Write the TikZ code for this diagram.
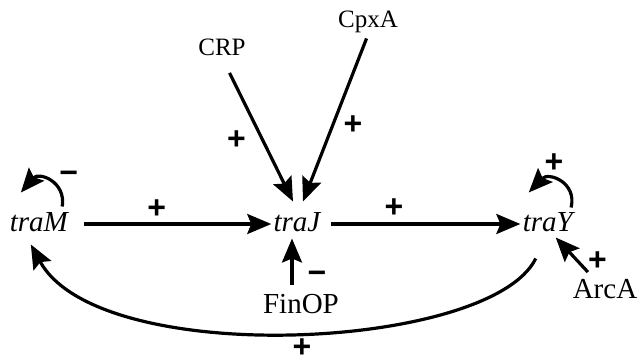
\documentclass[tikz,border=0pt]{standalone}
\usepackage{fontspec}
\setmainfont{Liberation Serif}
\setsansfont{Liberation Sans}
\usetikzlibrary{arrows.meta,positioning}
\tikzset{
  gene/.style={
    font=\fontsize{14.5}{17}\selectfont\itshape,
    inner sep=1pt, text height=9.6pt, text depth=2.5pt
  },
  regsmall/.style={
    font=\fontsize{12.5}{15}\selectfont, inner sep=1pt, anchor=base
  },
  reglarge/.style={
    font=\fontsize{14.5}{17}\selectfont, inner sep=1pt, anchor=base
  },
  sign/.style={font=\fontsize{16}{18}\selectfont\sffamily\bfseries, inner sep=0.5pt},
  act/.style={->, >={Stealth[length=12pt,width=10pt,inset=2pt]}, line width=1.6pt},
}

\begin{document}
\begin{tikzpicture}[x=0.5pt, y=-0.5pt]
  \useasboundingbox (0,0) rectangle (638,364);

  % Genes
  \node[gene] (traJ) at (297,224) {traJ};
  \node[gene, left=100.5pt of traJ] (traM) {traM};
  \node[gene, right=98.8pt of traJ] (traY) {traY};

  % Regulators
  \node[regsmall] (CRP) at (222,55) {CRP};
  \node[regsmall] (CpxA) at (368,27) {CpxA};
  \node[reglarge] (FinOP) at (301,313) {FinOP};
  \node[reglarge] (ArcA) at (605,298) {ArcA};

  % Gene to gene
  \draw[act, shorten <=7pt] (traM) -- node[sign, pos=0.43, above=1.5pt] {+} (traJ);
  \draw[act, shorten <=4pt] (traJ) -- node[sign, pos=0.36, above=2pt] {+} (traY);

  % Regulators to genes
  \draw[act, shorten <=8.5pt] (CRP.south) --
        node[sign, pos=0.57, left=7pt] {+}
        ([shift={(-4,-8)}]traJ.north);
  \draw[act, shorten <=2pt] (CpxA.south) --
        node[sign, pos=0.54, right=4pt] {+}
        ([shift={(6,-8)}]traJ.north);
  \draw[act, shorten <=3pt] ([xshift=-4.5pt]FinOP.north) --
        node[sign, pos=0.26, right=6.5pt] {−}
        ([xshift=-2.5pt]traJ.south);
  \draw[act, shorten <=3pt] ([xshift=-6.5pt]ArcA.north) --
        node[sign, pos=0.4, right=4pt] {+}
        ([shift={(8,-1)}]traY.south);

  % Autoregulation
  \draw[act] ([shift={(-8,-3)}]traM.north east) .. controls +(4,-25) and +(18,-21) ..
        node[sign, pos=0.35, above right=0pt] {−}
        ([shift={(-18,-17)}]traM.north);
  \draw[act] ([shift={(-4,-2)}]traY.north east) .. controls +(6,-25) and +(20,-21) ..
        node[sign, pos=0.6, above=3pt] {+}
        ([shift={(-19,-17)}]traY.north);

  % Feedback traY -> traM
  \draw[act] ([shift={(-12,20)}]traY.south) .. controls +(-45,92) and +(68,125) ..
        node[sign, pos=0.485, below=1.5pt] {+}
        ([shift={(-8,6)}]traM.south);

\end{tikzpicture}
\end{document}
